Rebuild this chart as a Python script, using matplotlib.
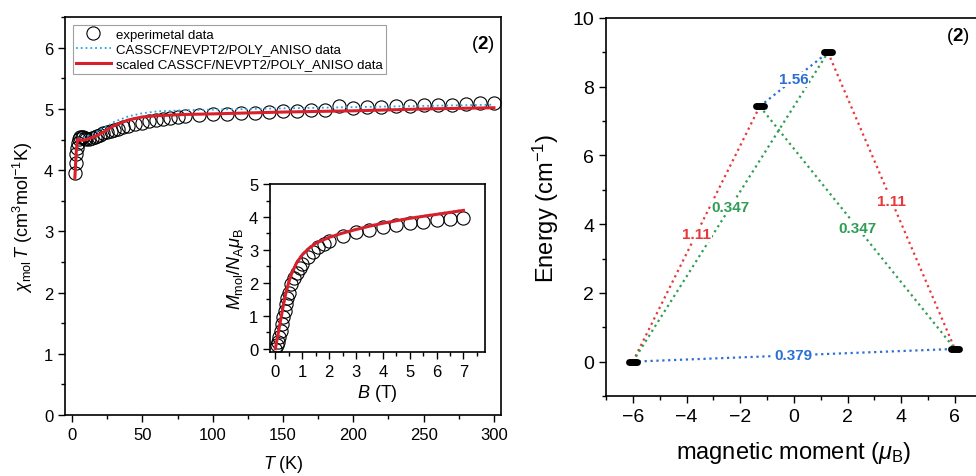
import matplotlib
matplotlib.use('Agg')
import matplotlib.pyplot as plt
import numpy as np
from matplotlib.ticker import MultipleLocator

plt.rcParams['font.family'] = ['Liberation Sans', 'DejaVu Sans']
plt.rcParams['mathtext.fontset'] = 'custom'
plt.rcParams['mathtext.rm'] = 'Liberation Sans'
plt.rcParams['mathtext.it'] = 'Liberation Sans:italic'
plt.rcParams['mathtext.bf'] = 'Liberation Sans:bold'

# chi*T vs T, experiment
T_exp = [2, 2.5, 3, 3.5, 4, 5, 6, 7, 8, 9, 10, 12, 14, 16, 18, 20, 22, 25, 28,
         30, 33, 36, 40, 45, 50, 55, 60, 65, 70, 75, 80, 90, 100, 110, 120, 130,
         140, 150, 160, 170, 180, 190, 200, 210, 220, 230, 240, 250, 260, 270,
         280, 290, 300]
chiT_exp = [3.95, 4.12, 4.26, 4.36, 4.45, 4.51, 4.54, 4.55, 4.54, 4.52, 4.51,
            4.51, 4.52, 4.54, 4.56, 4.58, 4.6, 4.62, 4.64, 4.66, 4.68, 4.7,
            4.72, 4.75, 4.77, 4.8, 4.82, 4.84, 4.86, 4.87, 4.88, 4.9, 4.91,
            4.92, 4.93, 4.94, 4.95, 4.96, 4.97, 4.98, 4.99, 5.05, 5.02, 5.03,
            5.04, 5.05, 5.05, 5.06, 5.07, 5.07, 5.08, 5.09, 5.1]

# chi*T, calculated
T_calc = [2, 3, 4, 5, 6, 8, 10, 15, 20, 25, 30, 40, 50, 60, 80, 100, 150, 200,
          250, 300]
chiT_calc = [3.9, 4.35, 4.5, 4.52, 4.52, 4.53, 4.55, 4.6, 4.66, 4.72, 4.79,
             4.88, 4.93, 4.96, 4.98, 4.99, 5.01, 5.03, 5.05, 5.07]
chiT_scaled = [3.87, 4.3, 4.5, 4.5, 4.49, 4.49, 4.5, 4.54, 4.59, 4.66, 4.73,
               4.82, 4.87, 4.89, 4.91, 4.92, 4.95, 4.97, 5.0, 5.02]

# magnetisation vs field
B_exp = [0.0, 0.05, 0.1, 0.15, 0.2, 0.25, 0.3, 0.35, 0.4, 0.45, 0.5, 0.6, 0.7,
         0.8, 0.9, 1.0, 1.2, 1.4, 1.6, 1.8, 2.0, 2.5, 3.0, 3.5, 4.0, 4.5, 5.0,
         5.5, 6.0, 6.5, 7.0]
M_exp = [0.0, 0.1, 0.2, 0.35, 0.55, 0.75, 0.95, 1.15, 1.35, 1.55, 1.7, 1.95,
         2.15, 2.3, 2.45, 2.58, 2.78, 2.95, 3.08, 3.18, 3.28, 3.43, 3.54, 3.62,
         3.7, 3.76, 3.82, 3.86, 3.9, 3.94, 3.98]
B_calc = [0.0, 0.1, 0.2, 0.3, 0.4, 0.5, 0.6, 0.8, 1.0, 1.25, 1.5, 2.0, 2.5,
          3.0, 3.5, 4.0, 5.0, 6.0, 7.0]
M_calc = [0.0, 0.45, 0.9, 1.35, 1.75, 2.05, 2.3, 2.65, 2.88, 3.08, 3.22, 3.4,
          3.53, 3.64, 3.74, 3.83, 3.98, 4.1, 4.22]
M_scaled = [0.0, 0.44, 0.88, 1.32, 1.72, 2.02, 2.27, 2.62, 2.85, 3.05, 3.2,
            3.38, 3.51, 3.62, 3.72, 3.81, 3.96, 4.08, 4.2]

# low-lying states: magnetic moment and energy
moment = [-6.0, -1.27, 1.27, 6.0]
energy = [0.0, 7.43, 9.0, 0.37]
# transitions: (from, to, matrix element, colour)
trans_i = [0, 1, 0, 2, 0, 1]
trans_j = [3, 2, 1, 3, 2, 3]
trans_val = ['0.379', '1.56', '1.11', '1.11', '0.347', '0.347']
trans_col = ['#2a6fd4', '#2a6fd4', '#e8383a', '#e8383a', '#2f9e55', '#2f9e55']

fig = plt.figure(figsize=(9.76, 4.77), dpi=100)

def style_ticks(ax, size=12):
    ax.tick_params(which='both', direction='out', top=False, right=False,
                   labelsize=size, width=1.0)
    ax.tick_params(which='major', length=5)
    ax.tick_params(which='minor', length=3)
    for s in ax.spines.values():
        s.set_linewidth(1.2)

# left panel
ax = fig.add_axes([0.0666, 0.1279, 0.4467, 0.834])
ax.plot(T_exp, chiT_exp, 'o', mfc='none', mec='black', ms=9.5, mew=0.8,
        label='experimetal data')
ax.plot(T_calc, chiT_calc, ':', color='#2aa3e0', lw=1.3,
        label='CASSCF/NEVPT2/POLY_ANISO data')
ax.plot(T_calc, chiT_scaled, '-', color='#d9202a', lw=2.2,
        label='scaled CASSCF/NEVPT2/POLY_ANISO data')
ax.set_xlim(-5, 305)
ax.set_ylim(0, 6.5)
ax.xaxis.set_major_locator(MultipleLocator(50))
ax.xaxis.set_minor_locator(MultipleLocator(25))
ax.yaxis.set_major_locator(MultipleLocator(1))
ax.yaxis.set_minor_locator(MultipleLocator(0.5))
style_ticks(ax)
ax.set_xlabel('$T$ (K)', fontsize=13, labelpad=8)
ax.set_ylabel(r'$\chi_{\rm mol}\,T$ (cm$^3$mol$^{-1}$K)', fontsize=13, labelpad=6)
leg = ax.legend(loc='upper left', fontsize=9.5, frameon=True, fancybox=False,
                edgecolor='#888888', borderpad=0.25, labelspacing=0.2,
                handlelength=2.6, handletextpad=0.4, borderaxespad=0.6)
leg.get_frame().set_linewidth(0.8)
ax.text(0.985, 0.96, r'($\mathbf{2}$)', transform=ax.transAxes, ha='right',
        va='top', fontsize=13.5)

# inset: magnetisation
axi = fig.add_axes([0.2766, 0.26, 0.2203, 0.352])
axi.plot(B_exp, M_exp, 'o', mfc='none', mec='black', ms=9.5, mew=0.8)
axi.plot(B_calc, M_calc, ':', color='#2aa3e0', lw=1.3)
axi.plot(B_calc, M_scaled, '-', color='#d9202a', lw=2.2)
axi.set_xlim(-0.2, 7.8)
axi.set_ylim(-0.1, 5)
axi.xaxis.set_major_locator(MultipleLocator(1))
axi.xaxis.set_minor_locator(MultipleLocator(0.5))
axi.yaxis.set_major_locator(MultipleLocator(1))
axi.yaxis.set_minor_locator(MultipleLocator(0.5))
style_ticks(axi)
axi.set_xlabel('$B$ (T)', fontsize=13, labelpad=2)
axi.set_ylabel(r'$M_{\rm mol}/N_{\rm A}\mu_{\rm B}$', fontsize=13, labelpad=2)

# right panel: barrier scheme
ax2 = fig.add_axes([0.6209, 0.1677, 0.385, 0.7925])
for i, j, v, c in zip(trans_i, trans_j, trans_val, trans_col):
    ax2.plot([moment[i], moment[j]], [energy[i], energy[j]], ':', color=c,
             lw=1.6, zorder=2)
    ax2.text((moment[i] + moment[j]) / 2, (energy[i] + energy[j]) / 2, v,
             color=c, fontsize=11, fontweight='bold', ha='center', va='center',
             bbox=dict(facecolor='white', edgecolor='none', pad=0.5), zorder=3)
for m, e in zip(moment, energy):
    ax2.plot([m - 0.15, m + 0.15], [e, e], '-', color='black', lw=5,
             solid_capstyle='round', zorder=4)
ax2.set_xlim(-7, 7)
ax2.set_ylim(-1, 10)
ax2.xaxis.set_major_locator(MultipleLocator(2))
ax2.xaxis.set_minor_locator(MultipleLocator(1))
ax2.yaxis.set_major_locator(MultipleLocator(2))
ax2.yaxis.set_minor_locator(MultipleLocator(1))
style_ticks(ax2, size=14)
ax2.set_xlabel(r'magnetic moment ($\mu_{\rm B}$)', fontsize=17, labelpad=10)
ax2.set_ylabel('Energy (cm$^{-1}$)', fontsize=17, labelpad=8)
ax2.text(6.57, 9.5, r'($\mathbf{2}$)', ha='right', va='center', fontsize=13.5)

fig.savefig('out.png', dpi=100)
